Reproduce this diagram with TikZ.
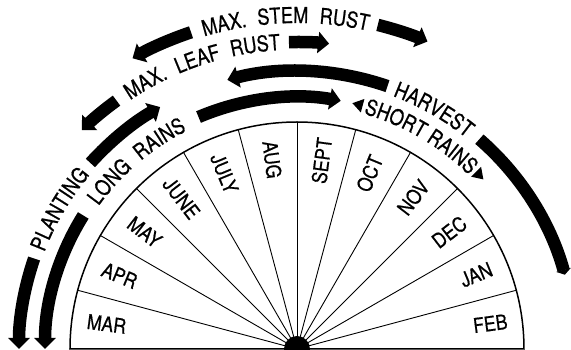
\documentclass[tikz,border=0pt]{standalone}
\usepackage{fontspec}
\setmainfont{TeX Gyre Heros}[FakeStretch=0.86,FakeBold=0.6]
\newfontfamily\ringfam{TeX Gyre Heros}[FakeStretch=0.82,FakeBold=0.7]
\usetikzlibrary{arrows.meta,decorations.text}
\newcommand\ringfont{\ringfam\fontsize{22}{22}\selectfont}
\newcommand\monthfont{\fontsize{20.5}{20.5}\selectfont}
\begin{document}
\begin{tikzpicture}[x=1pt,y=1pt,
  band/.style={line width=12.5pt},
  bigtip/.style={-{Triangle[width=21pt,length=11pt]}},
  month/.style={font=\monthfont, inner sep=0pt},
  ringtext/.style={decorate, decoration={text along path, text align=center, text={|\ringfont|#1}}}
]
\useasboundingbox (-297,-1) rectangle (274,349);

% dial
\draw[line width=1.5pt] (-227,0) arc[start angle=180,end angle=0,radius=227pt] -- cycle;
\foreach \a in {15,30,...,165} \draw[line width=0.9pt] (0,0) -- (\a:227);
\fill (0,0) circle[radius=13pt];

% months
\node[month, rotate=-7.5]  (mar)  at (172.5:192) {MAR};
\node[month, rotate=-22.5] (apr)  at (157.5:192) {APR};
\node[month, rotate=-37.5] (may)  at (142.5:192) {MAY};
\node[month, rotate=-52.5] (june) at (127.5:190) {JUNE};
\node[month, rotate=-67.5] (july) at (112.5:190) {JULY};
\node[month, rotate=-82.5] (aug)  at (97.5:191) {AUG};
\node[month, rotate=82.5]  (sept) at (82.5:190) {SEPT};
\node[month, rotate=67.5]  (oct)  at (67.5:190) {OCT};
\node[month, rotate=52.5]  (nov)  at (52.5:191) {NOV};
\node[month, rotate=37.5]  (dec)  at (37.5:192) {DEC};
\node[month, rotate=22.5]  (jan)  at (22.5:194) {JAN};
\node[month, rotate=7.5]   (feb)  at (7.5:195) {FEB};

% PLANTING ring
\draw[band,bigtip] (161:278) arc[start angle=161,end angle=180,radius=278pt];
\path[ringtext=PLANTING] (164:270.5) arc[start angle=164,end angle=135,radius=270.5pt];
\draw[band,bigtip] (138:278) arc[start angle=138,end angle=119.5,radius=278pt];

% LONG RAINS ring
\draw[band,bigtip] (148:252) arc[start angle=148,end angle=180,radius=252pt];
\path[ringtext={LONG{\kern11pt}RAINS}] (152:244.5) arc[start angle=152,end angle=109,radius=244.5pt];
\draw[band,bigtip] (113:252) arc[start angle=113,end angle=80,radius=252pt];

% SHORT RAINS
\fill (77.3:252) -- (74.9:259) -- (74.9:245) -- cycle;
\path[ringtext={SHORT RAINS}] (78.5:244.5) arc[start angle=78.5,end angle=41,radius=244.5pt];
\fill (42.3:252) -- (44.7:259) -- (44.7:245) -- cycle;

% HARVEST
\draw[band,bigtip] (71:278) arc[start angle=71,end angle=104.5,radius=278pt];
\path[ringtext=HARVEST] (75:270.5) arc[start angle=75,end angle=45.5,radius=270.5pt];
\draw[band,-{Triangle[width=15pt,length=5pt]}] (49:278) arc[start angle=49,end angle=15.5,radius=278pt];

% MAX. LEAF RUST
\draw[band,bigtip] (126:307) arc[start angle=126,end angle=134.5,radius=307pt];
\path[ringtext={MAX.{\kern11pt}LEAF{\kern11pt}RUST}] (129.5:299.5) arc[start angle=129.5,end angle=87.5,radius=299.5pt];
\draw[band,bigtip] (91.5:307) arc[start angle=91.5,end angle=84,radius=307pt];

% MAX. STEM RUST
\draw[band,bigtip] (108.5:334) arc[start angle=108.5,end angle=119.5,radius=334pt];
\path[ringtext={MAX.{\kern11pt}STEM{\kern11pt}RUST}] (112:326) arc[start angle=112,end angle=72,radius=326pt];
\draw[band,bigtip] (76:334) arc[start angle=76,end angle=67,radius=334pt];
\end{tikzpicture}
\end{document}
